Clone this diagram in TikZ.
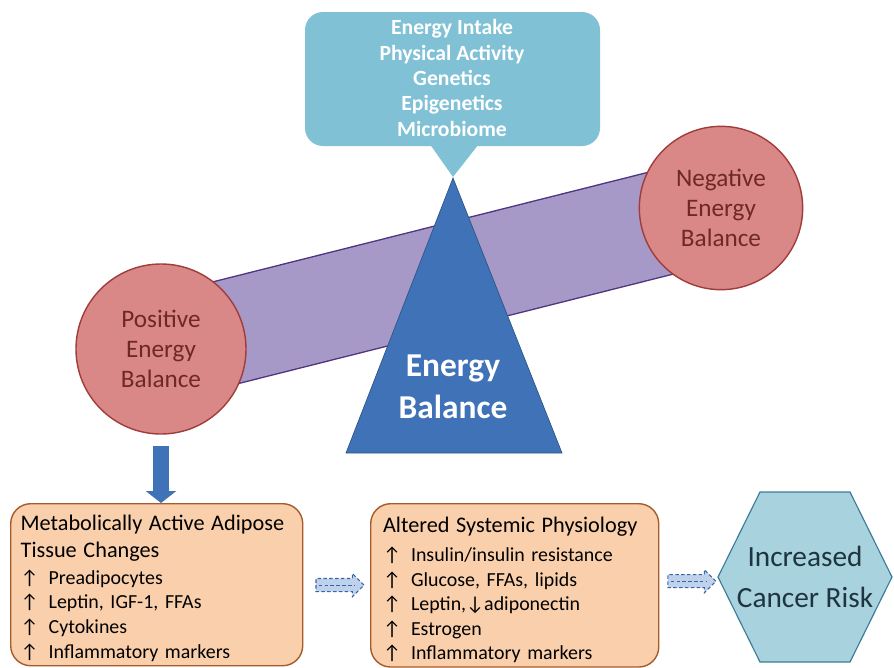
\documentclass[tikz,border=0pt]{standalone}
\usepackage{fontspec}
\setmainfont{Carlito}
\usetikzlibrary{shapes.arrows,arrows.meta,calc,positioning}
\definecolor{calloutblue}{RGB}{128,193,214}
\definecolor{fulcrumblue}{RGB}{63,114,182}
\definecolor{plankfill}{RGB}{166,153,199}
\definecolor{plankedge}{RGB}{80,52,130}
\definecolor{ballfill}{RGB}{217,136,135}
\definecolor{balledge}{RGB}{160,60,58}
\definecolor{balltext}{RGB}{110,40,38}
\definecolor{boxfill}{RGB}{250,208,172}
\definecolor{boxedge}{RGB}{166,92,42}
\definecolor{riskfill}{RGB}{168,210,222}
\definecolor{riskedge}{RGB}{62,124,154}
\definecolor{risktext}{RGB}{30,52,64}
\definecolor{dashedge}{RGB}{60,100,160}
\definecolor{dashfill}{RGB}{190,210,236}
\tikzset{ball/.style={circle,draw=balledge,line width=1.2pt,fill=ballfill,text=balltext,align=center,font=\fontsize{21.5}{25.5}\selectfont},
         changebox/.style={draw=boxedge,line width=1.2pt,fill=boxfill,rounded corners=0.6cm,align=left,anchor=north west,inner xsep=0.3cm,font=\fontsize{17}{21}\selectfont},
         flowarrow/.style={single arrow,draw=dashedge,densely dashed,fill=dashfill,line width=0.9pt,minimum height=1.44cm,minimum width=0.66cm,single arrow head extend=0.15cm,inner xsep=0pt,inner ysep=0.18cm}}
\newcommand{\up}{↑\hspace{0.5em}}
\newcommand{\boxhead}[1]{{\fontsize{19}{21}\selectfont #1}}

\begin{document}
\begin{tikzpicture}[x=0.03cm,y=-0.03cm]
    \useasboundingbox (0,0) rectangle (894,667);
    \coordinate (pc) at (161,349);
    \coordinate (nc) at (721,208);
    % lever arm, then the fulcrum on top of it
    \draw [plankedge,line width=1.2pt,double=plankfill,double distance=3.1cm] (pc) -- (nc);
    \filldraw [fill=fulcrumblue,draw=fulcrumblue!75!black,line width=0.6pt] (453,178) -- (562,453) -- (346,453) -- cycle;
    \node (eb) at (453,387) [text=white,align=center,font=\bfseries\fontsize{28.5}{36}\selectfont] {Energy\\Balance};
    % speech bubble above the fulcrum
    \fill [calloutblue,rounded corners=0.54cm] (305,12) rectangle (600,146);
    \fill [calloutblue] (427,140) -- (453,177) -- (482,140) -- cycle;
    \node (factors) at (452,78) [text=white,align=center,font=\bfseries\fontsize{18.5}{21.7}\selectfont]
        {Energy Intake\\Physical Activity\\Genetics\\Epigenetics\\Microbiome};
    \node (pos) [ball,minimum size=5.1cm] at (pc) {Positive\\Energy\\Balance};
    \node (neg) [ball,minimum size=4.9cm] at (nc) {Negative\\Energy\\Balance};
    % bottom row (the rules push the lists down a little)
    \node (adipose) [changebox,minimum width=8.76cm,minimum height=4.86cm,text width=8.16cm] at (10,503)
        {\rule{0pt}{19pt}\boxhead{Metabolically Active Adipose}\\[2pt]\boxhead{Tissue Changes}\\[2pt]
         \up Preadipocytes\\
         \up Leptin, IGF-1, FFAs\\
         \up Cytokines\\
         \up Inflammatory markers};
    \node (physio) [changebox,minimum width=8.64cm,minimum height=4.86cm,text width=7.9cm,inner xsep=0.37cm] at (370,503)
        {\rule{0pt}{21pt}\boxhead{Altered Systemic Physiology}\\[4pt]
         \up Insulin/insulin resistance\\
         \up Glucose, FFAs, lipids\\
         \up Leptin,↓adiponectin\\
         \up Estrogen\\
         \up Inflammatory markers};
    \filldraw [fill=riskfill,draw=riskedge,line width=1pt] (718,577) -- (760,492) -- (850,492) -- (892,577) -- (850,662) -- (760,662) -- cycle;
    \node (risk) at (805,577) [minimum width=5.22cm,text=risktext,align=center,font=\fontsize{25}{35.5}\selectfont] {Increased\\Cancer Risk};
    % arrows
    \draw [fulcrumblue,line width=0.5cm,-{Triangle[width=0.9cm,length=0.36cm]},shorten <=0.33cm] (pos.south) -- (pos.south |- adipose.north);
    \node (toPhys) [flowarrow] at ($(adipose.east)!0.5!(physio.west)$) {};
    \node (toRisk) [flowarrow] at ($(physio.east)!0.5!(risk.west)$) {};
    \foreach \a in {toPhys,toRisk}
        \draw [dashedge,densely dashed,line width=0.9pt,shorten <=0.1cm,shorten >=0.3cm] (\a.tail) -- (\a.tip);
\end{tikzpicture}
\end{document}
